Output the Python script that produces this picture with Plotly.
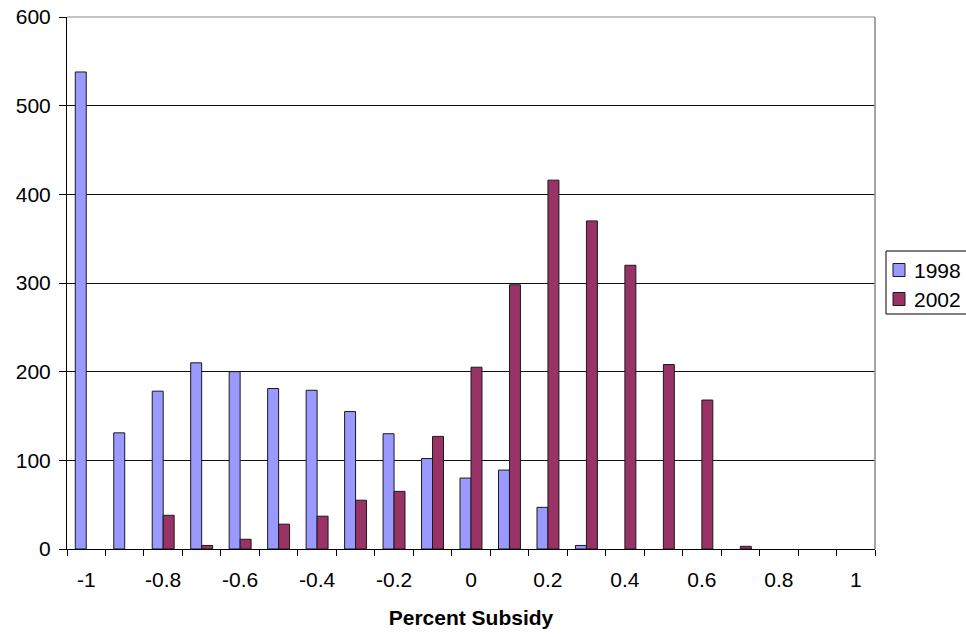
import plotly.graph_objects as go

categories = [-1.0, -0.9, -0.8, -0.7, -0.6, -0.5, -0.4, -0.3, -0.2, -0.1, 0.0,
              0.1, 0.2, 0.3, 0.4, 0.5, 0.6, 0.7, 0.8, 0.9, 1.0]
values_1998 = [538, 131, 178, 210, 200, 181, 179, 155, 130, 102, 80,
               89, 47, 4, 0, 0, 0, 0, 0, 0, 0]
values_2002 = [0, 0, 38, 4, 11, 28, 37, 55, 65, 127, 205,
               298, 416, 370, 320, 208, 168, 3, 0, 0, 0]
tick_values = [-1, -0.8, -0.6, -0.4, -0.2, 0, 0.2, 0.4, 0.6, 0.8, 1]
tick_labels = ["-1", "-0.8", "-0.6", "-0.4", "-0.2", "0", "0.2", "0.4", "0.6", "0.8", "1"]
series_names = ["1998", "2002"]
series_colors = ["#9999FF", "#993366"]

font = "Liberation Sans, Arial, sans-serif"
W, H = 966, 637
L, T = 67, 17
pw, ph = 808, 532
R, B = W - L - pw, H - T - ph


def px_x(x):
    return (x - L) / pw


def px_y(y):
    return (T + ph - y) / ph


fig = go.Figure()
for name, vals, col in zip(series_names, [values_1998, values_2002], series_colors):
    fig.add_trace(go.Bar(
        x=categories, y=vals, name=name, showlegend=False,
        marker=dict(color=col,
                    line=dict(color="#1a1a1a", width=[0 if v == 0 else 1 for v in vals]))))

fig.update_layout(
    width=W, height=H,
    margin=dict(l=L, r=R, t=T, b=B, autoexpand=False),
    paper_bgcolor="white", plot_bgcolor="white",
    barmode="group", bargap=0.43, bargroupgap=0,
    font=dict(family=font, size=21, color="black"),
    xaxis=dict(range=[-1.05, 1.05], tickvals=tick_values, ticktext=tick_labels,
               ticks="", showgrid=False, zeroline=False, automargin=False,
               showline=True, linecolor="black", linewidth=1,
               minor=dict(ticks="outside", tick0=-1.05, dtick=0.1, ticklen=6,
                          tickcolor="black", showgrid=False),
               tickfont=dict(size=21), ticklabelstandoff=12, ticklabeloverflow="allow",
               title=dict(text="<b>Percent Subsidy</b>", font=dict(size=21), standoff=20)),
    yaxis=dict(range=[0, 600], dtick=100, showgrid=True, gridcolor="#111111", gridwidth=1,
               zeroline=False, showline=True, linecolor="black", linewidth=1,
               ticks="outside", ticklen=7, tickcolor="black", automargin=False,
               tickfont=dict(size=21), ticklabelstandoff=4, ticklabeloverflow="allow"),
)
# plot-area border (top and right, grey)
fig.add_shape(type="line", xref="paper", yref="paper", x0=1, x1=1, y0=0, y1=1,
              line=dict(color="#888888", width=1.5))
fig.add_shape(type="line", xref="paper", yref="paper", x0=0, x1=1, y0=1, y1=1,
              line=dict(color="#888888", width=1))

# legend box (drawn manually to match the Excel-style legend)
fig.add_shape(type="rect", xref="paper", yref="paper",
              x0=px_x(886), x1=px_x(975), y0=px_y(314), y1=px_y(251),
              line=dict(color="black", width=1), fillcolor="white")
row_centers = [270, 299]
for name, col, yc in zip(series_names, series_colors, row_centers):
    fig.add_shape(type="rect", xref="paper", yref="paper",
                  x0=px_x(893), x1=px_x(905), y0=px_y(yc + 6.5), y1=px_y(yc - 6.5),
                  line=dict(color="#1a1a1a", width=1), fillcolor=col)
    fig.add_annotation(xref="paper", yref="paper", x=px_x(912), y=px_y(yc),
                       xanchor="left", yanchor="middle", text=name, showarrow=False,
                       font=dict(size=21, family=font, color="black"))

fig.write_html("out.html",
               config={"displayModeBar": False},
               post_script="document.body.style.margin='0px';"
                           "document.documentElement.style.overflow='hidden';"
                           "document.body.style.overflow='hidden';")
